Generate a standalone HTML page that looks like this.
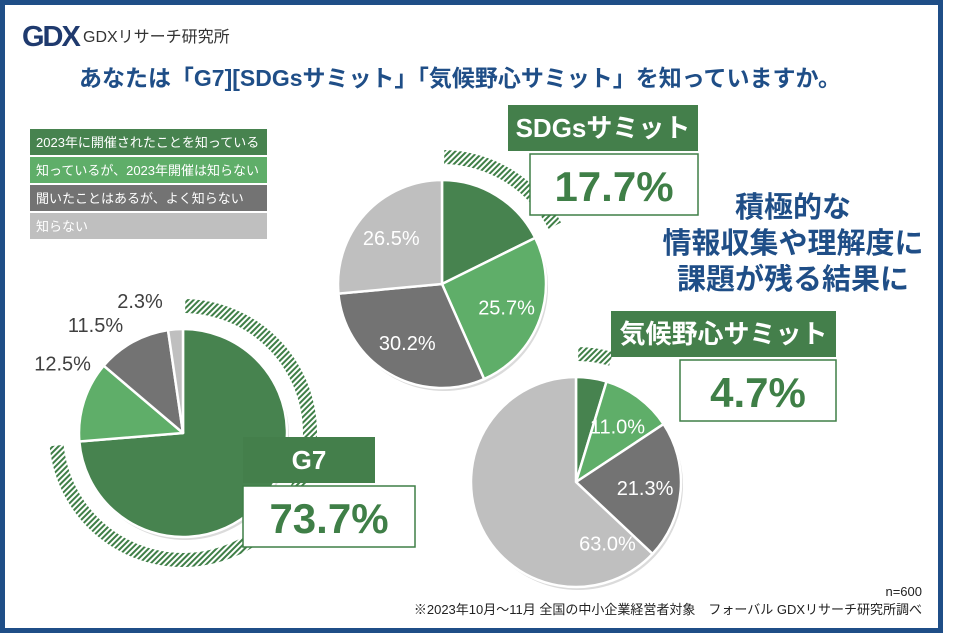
<!DOCTYPE html>
<html><head><meta charset="utf-8">
<style>
html,body{margin:0;padding:0;background:#fff;}
svg{display:block;font-family:"Liberation Sans","Noto Sans CJK JP",sans-serif;}
</style></head>
<body>
<svg id="chart" width="957" height="637" viewBox="0 0 957 637">
<defs>
<pattern id="hatch" patternUnits="userSpaceOnUse" width="4" height="4" patternTransform="rotate(45)">
<rect width="4" height="4" fill="#fff"/><rect width="2" height="4" fill="#3f7f47"/>
</pattern>
</defs>
<rect x="2.5" y="2.5" width="938" height="628" fill="#fff" stroke="#1f4e87" stroke-width="5"/>
<g>
<text x="22" y="46" font-size="29" font-weight="bold" fill="#1f3a6e" letter-spacing="-2" font-family="Liberation Sans, sans-serif">GDX</text>
<text x="83" y="42" font-size="16" fill="#333">GDXリサーチ研究所</text>
</g>
<text x="460" y="86" text-anchor="middle" font-size="23" font-weight="bold" fill="#1f4e87" textLength="762" lengthAdjust="spacingAndGlyphs">あなたは「G7][SDGsサミット」「気候野心サミット」を知っていますか。</text>
<g id="legend"></g>
<g id="pies"></g>
<g font-size="29" font-weight="bold" fill="#1f4e87" text-anchor="middle">
<text x="793" y="217">積極的な</text>
<text x="793" y="253">情報収集や理解度に</text>
<text x="793" y="289">課題が残る結果に</text>
</g>
<text x="922" y="596" text-anchor="end" font-size="13" fill="#222">n=600</text>
<text x="922" y="614" text-anchor="end" font-size="13" fill="#222">※2023年10月～11月 全国の中小企業経営者対象　フォーバル GDXリサーチ研究所調べ</text>
</svg>
<script>
const categories = ["2023年に開催されたことを知っている","知っているが、2023年開催は知らない","聞いたことはあるが、よく知らない","知らない"];
const pieNames = ["G7","SDGsサミット","気候野心サミット"];
const g7Values = [73.7, 12.5, 11.5, 2.3];
const sdgsValues = [17.7, 25.7, 30.2, 26.5];
const climateValues = [4.7, 11.0, 21.3, 63.0];
const colors = ["#47834f","#5fae69","#737373","#bfbfbf"];
const NS = "http://www.w3.org/2000/svg";
function mk(tag, attrs, parent){const e=document.createElementNS(NS,tag);for(const k in attrs)e.setAttribute(k,attrs[k]);parent.appendChild(e);return e;}
const lg = document.getElementById('legend');
categories.forEach((c,i)=>{
  const y = 129 + i*28;
  const r = mk('rect',{x:30,y:y,width:237,height:26,fill:colors[i]},lg);
  
  
  const t = mk('text',{x:36,y:y+18,'font-size':13,fill:'#fff'},lg);
  
  
  t.textContent = c;
});
function pt(cx,cy,r,a){const rad=a*Math.PI/180;return [cx+r*Math.sin(rad), cy-r*Math.cos(rad)];}
function arcPath(cx,cy,r,a0,a1){
  const p0=pt(cx,cy,r,a0),p1=pt(cx,cy,r,a1);const large=(a1-a0)>180?1:0;
  return `M${cx},${cy}L${p0[0]},${p0[1]}A${r},${r} 0 ${large} 1 ${p1[0]},${p1[1]}Z`;
}
function bandPath(cx,cy,r0,r1,a0,a1){
  const p0=pt(cx,cy,r1,a0),p1=pt(cx,cy,r1,a1),q1=pt(cx,cy,r0,a1),q0=pt(cx,cy,r0,a0);const large=(a1-a0)>180?1:0;
  return `M${p0[0]},${p0[1]}A${r1},${r1} 0 ${large} 1 ${p1[0]},${p1[1]}L${q1[0]},${q1[1]}A${r0},${r0} 0 ${large} 0 ${q0[0]},${q0[1]}Z`;
}
const pies = document.getElementById('pies');
function drawPie(name, values, cx, cy, r, outsideLabels, labelBox, angleOverride){
  const g = mk('g',{},pies);
  
  
  const total = values.reduce((a,b)=>a+b,0);
  const bandEnd = values[0]/total*360;
  const band = mk('path',{d:bandPath(cx,cy,r+16,r+30,1,bandEnd-1),fill:'url(#hatch)'},g);
  
  
  mk('circle',{cx:cx+2,cy:cy+3,r:r,fill:'#999',opacity:0.35},g);
  let a=0;
  values.forEach((v,i)=>{
    const a1=a+v/total*360;
    const s = mk('path',{d:arcPath(cx,cy,r,a,a1),fill:colors[i],stroke:'#fff','stroke-width':2.5,'stroke-linejoin':'round'},g);
    
    
    let mid=(a+a1)/2;
    if(angleOverride && angleOverride[i]!=null) mid = angleOverride[i];
    let lp, col;
    if(outsideLabels){ lp = pt(cx,cy,r+35,mid); col='#404040'; }
    else { lp = pt(cx,cy,r*0.66,mid); col='#fff'; }
    if(i>0){
      const t = mk('text',{x:lp[0],y:lp[1]+7,'text-anchor':'middle','font-size':20,fill:col},g);
      
      
      t.textContent = v.toFixed(1)+'%';
    }
    a=a1;
  });
  const b = labelBox;
  const nb = mk('rect',{x:b.x,y:b.y,width:b.w1,height:46,fill:'#447f4b'},g);
  
  
  const nt = mk('text',{x:b.x+b.w1/2,y:b.y+32,'text-anchor':'middle','font-size':26,'font-weight':'bold',fill:'#fff'},g);
  
  
  nt.textContent = name;
  const vb = mk('rect',{x:b.vx,y:b.y+49,width:b.w2,height:61,fill:'#fff',stroke:'#3f7f47','stroke-width':1.5},g);
  
  
  const vt = mk('text',{x:b.vx+b.w2/2,y:b.y+96,'text-anchor':'middle','font-size':42,'font-weight':'bold',fill:'#3f7f47'},g);
  
  
  vt.textContent = values[0].toFixed(1)+'%';
}
drawPie(pieNames[0], g7Values, 183, 433, 104, true, {x:243,y:437,w1:132,vx:243,w2:172}, [null,300,321,342]);
drawPie(pieNames[1], sdgsValues, 442, 284, 104, false, {x:508,y:105,w1:190,vx:530,w2:168}, null);
drawPie(pieNames[2], climateValues, 576, 482, 105, false, {x:611,y:311,w1:225,vx:680,w2:156}, [null,null,null,153]);
</script>
</body></html>
